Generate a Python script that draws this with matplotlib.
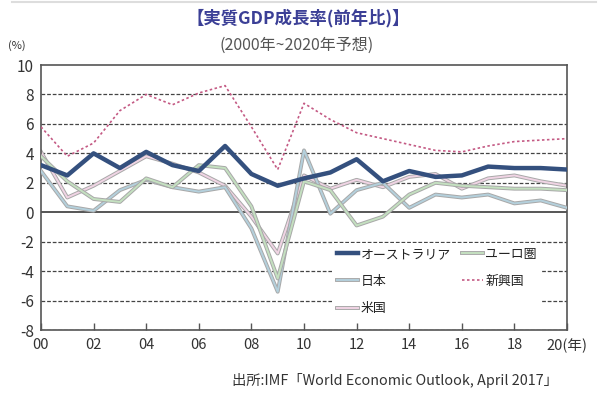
import matplotlib.pyplot as plt
import matplotlib.patheffects as pe

plt.rcParams['font.family'] = ['Noto Sans CJK JP', 'DejaVu Sans']

# 実質GDP成長率 (前年比, %), 2000-2020 (2017年以降は予想)
years = list(range(2000, 2021))

australia = [3.2, 2.5, 4.0, 3.0, 4.1, 3.2, 2.8, 4.5, 2.6, 1.8, 2.3, 2.7, 3.6,
             2.1, 2.8, 2.4, 2.5, 3.1, 3.0, 3.0, 2.9]
japan = [2.8, 0.4, 0.1, 1.5, 2.2, 1.7, 1.4, 1.7, -1.1, -5.4, 4.2, -0.1, 1.5,
         2.0, 0.3, 1.2, 1.0, 1.2, 0.6, 0.8, 0.3]
usa = [4.1, 1.0, 1.8, 2.8, 3.8, 3.3, 2.7, 1.8, -0.3, -2.8, 2.5, 1.6, 2.2,
       1.7, 2.4, 2.6, 1.6, 2.3, 2.5, 2.1, 1.8]
euro = [3.8, 2.1, 0.9, 0.7, 2.3, 1.7, 3.2, 3.0, 0.4, -4.5, 2.1, 1.5, -0.9,
        -0.3, 1.2, 2.0, 1.8, 1.7, 1.6, 1.6, 1.5]
emerging = [5.8, 3.8, 4.7, 6.9, 8.0, 7.3, 8.1, 8.6, 5.8, 2.9, 7.4, 6.3, 5.4,
            5.0, 4.6, 4.2, 4.1, 4.5, 4.8, 4.9, 5.0]

xtick_years = list(range(2000, 2021, 2))
xtick_labels = ['00', '02', '04', '06', '08', '10', '12', '14', '16', '18', '20(年)']
yticks = list(range(-8, 11, 2))

fig = plt.figure(figsize=(6.08, 3.94), dpi=100)
ax = fig.add_axes([0.0674, 0.1624, 0.8652, 0.6726])

for v in yticks:
    if v == 0:
        ax.axhline(0, color='#555555', lw=1.4, zorder=1)
    elif v < 10:
        ax.axhline(v, color='#444444', lw=0.9, ls=(0, (3, 1.5)), zorder=1)

outline = [pe.Stroke(linewidth=2.8, foreground='#a8a8a8'), pe.Normal()]

l_au, = ax.plot(years, australia, color='#34507e', lw=3.2, zorder=5,
                label='オーストラリア')
l_jp, = ax.plot(years, japan, color='#b4d0dc', lw=1.4, zorder=3,
                path_effects=outline, label='日本')
l_us, = ax.plot(years, usa, color='#f0d4e4', lw=1.4, zorder=2,
                path_effects=outline, label='米国')
l_eu, = ax.plot(years, euro, color='#c4e0c0', lw=1.4, zorder=3,
                path_effects=outline, label='ユーロ圏')
l_em, = ax.plot(years, emerging, color='#c45a84', lw=1.2, ls=(0, (1.5, 1.5)),
                zorder=4, label='新興国')

ax.set_xlim(2000, 2020)
ax.set_ylim(-8, 10)
ax.set_xticks(xtick_years)
ax.set_xticklabels(xtick_labels)
ax.set_yticks(yticks)
ax.set_yticklabels([str(v) for v in yticks])
ax.tick_params(axis='x', direction='in', length=5, width=1, color='#555555',
               labelsize=10.5, labelcolor='#333333', pad=6)
ax.tick_params(axis='y', length=0, labelsize=11, labelcolor='#333333', pad=5)
for s in ax.spines.values():
    s.set_color('#555555')
    s.set_linewidth(1.2)

leg = ax.legend(handles=[l_au, l_jp, l_us, l_eu, l_em], ncol=2,
                loc='lower right', bbox_to_anchor=(0.965, 0.012),
                fontsize=9.3, frameon=True, handlelength=1.6, handletextpad=0.2,
                columnspacing=0.9, labelspacing=1.1, borderpad=0.4)
leg.get_frame().set_facecolor('white')
leg.get_frame().set_edgecolor('none')
leg.get_frame().set_alpha(1)
leg.set_zorder(6)
for t in leg.get_texts():
    t.set_color('#222222')

fig.text(0.49, 0.953, '【実質GDP成長率(前年比)】', ha='center', va='center',
         fontsize=12.5, fontweight='bold', color='#3b3f96')
fig.text(0.488, 0.885, '(2000年~2020年予想)', ha='center', va='center',
         fontsize=11.5, color='#555555')
fig.text(0.028, 0.885, '(%)', ha='center', va='center', fontsize=8,
         color='#333333')
fig.text(0.65, 0.035, '出所:IMF「World Economic Outlook, April 2017」',
         ha='center', va='center', fontsize=10.3, color='#333333')

fig.add_artist(plt.Line2D([0.02, 0.98], [0.995, 0.995], color='#dddddd', lw=1.5))

fig.savefig('out.png', dpi=100)
